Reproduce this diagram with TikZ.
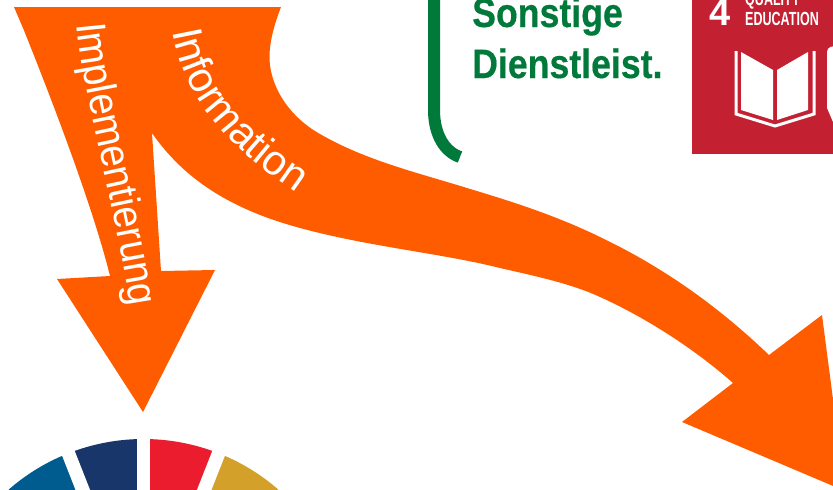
\documentclass[tikz,border=0pt]{standalone}
\usepackage{fontspec}
\setmainfont{Liberation Sans}
\newfontfamily\implfont[FakeStretch=0.92]{Liberation Sans}
\newfontfamily\infofont[FakeStretch=1.0]{Liberation Sans}
\newfontfamily\labelfont[FakeStretch=0.87,FakeBold=0.4]{Liberation Sans Bold}
\newfontfamily\cardfont[FakeStretch=0.66]{Liberation Sans Bold}
\newfontfamily\numberfont[FakeStretch=1.0]{Liberation Sans Bold}
\usetikzlibrary{decorations.text}
\definecolor{flowOrange}{HTML}{FF5C00}
\definecolor{bracketGreen}{HTML}{00793A}
\definecolor{cardRed}{HTML}{C32032}
\definecolor{wheelBlue}{HTML}{005C8F}
\definecolor{wheelNavy}{HTML}{19366A}
\definecolor{wheelRed}{HTML}{EB1C2D}
\definecolor{wheelGold}{HTML}{D3A029}
\tikzset{
    flow/.style={fill=flowOrange}, % the two big arrows
    flowtext/.style={decorate, decoration={text along path, text color=white, text align=left, text={#1}}},
    greentext/.style={anchor=base west, inner sep=0pt, text=bracketGreen, font=\labelfont\fontsize{41}{41}\selectfont},
    cardtext/.style={anchor=base west, inner sep=0pt, text=white, font=\cardfont\fontsize{19}{19}\selectfont},
    wheelgap/.style={draw=white, line width=13.5pt},
}

\begin{document}
\begin{tikzpicture}[x=1pt, y=-1pt]

        \clip (0,0) rectangle (833,490);

        % Arrows
        \fill[flow]
            (14,7) -- (281,7)
            .. controls (272,30) and (268,50) .. (270,65)
            .. controls (273,90) and (290,117) .. (320,134)
            .. controls (365,160) and (415,172) .. (467,188)
            .. controls (510,201) and (555,215) .. (600,237)
            .. controls (665,268) and (720,308) .. (769,355)
            -- (822,315) -- (845,491) -- (682,422) -- (733,383)
            .. controls (690,345) and (640,315) .. (600,297)
            .. controls (570,283) and (530,275) .. (500,268)
            .. controls (440,253) and (370,247) .. (300,228)
            .. controls (245,213) and (190,188) .. (152,133)
            -- (161,271) -- (215,270) -- (143,412) -- (57,279) -- (110,276)
            .. controls (95,215) and (60,120) .. (23,28)
            -- cycle;

        % Labels on the arrows
        \path[flowtext={|\implfont\fontsize{42}{42}\selectfont|Implementierung}] (77,24) .. controls (84,100) and (112,190) .. (131,310);
        \path[flowtext={|\infofont\fontsize{42}{42}\selectfont|Information}] (173,31) .. controls (185,100) and (225,145) .. (300,195);

        % Bracket
        \draw[bracketGreen, line width=12pt] (434,-5) -- (434,110) .. controls (434,135) and (445,152) .. (460,157);
        \node[greentext] (sonstige) at (472,27) {Sonstige};
        \node[greentext] (dienstleist) at (472,78) {Dienstleist.};

        % Card
        \fill[cardRed] (692,-5) rectangle (838,154);
        \node[anchor=base west, inner sep=0pt, text=white, font=\numberfont\fontsize{38}{38}\selectfont] (four) at (709,25) {4};
        \node[cardtext] (quality) at (745,5) {QUALITY};
        \node[cardtext] (education) at (745,25) {EDUCATION};
        \fill[white] (741,52) -- (773,70) -- (773,120) -- (741,110) -- cycle;
        \fill[white] (808,52) -- (777,70) -- (777,120) -- (808,110) -- cycle;
        \draw[white, line width=3pt] (736,51) -- (736,114) -- (775,126) -- (814,114) -- (814,51);
        \fill[white] (827,52) .. controls (827,47) and (833,45) .. (838,47) -- (838,108) -- (833,122) -- (827,108) -- cycle;

        % Wheel
        \foreach \col/\from/\to in {wheelBlue/133/111.5, wheelNavy/111.5/90, wheelRed/90/68.5, wheelGold/68.5/47}
            \fill[\col] (143.5,644) -- ++(\from:205 and -205) arc[start angle=-\from, end angle=-\to, radius=205] -- cycle;
        \foreach \ang in {47, 68.5, 90, 111.5, 133}
            \draw[wheelgap] (143.5,644) -- ++(\ang:208 and -208);

\end{tikzpicture}
\end{document}
